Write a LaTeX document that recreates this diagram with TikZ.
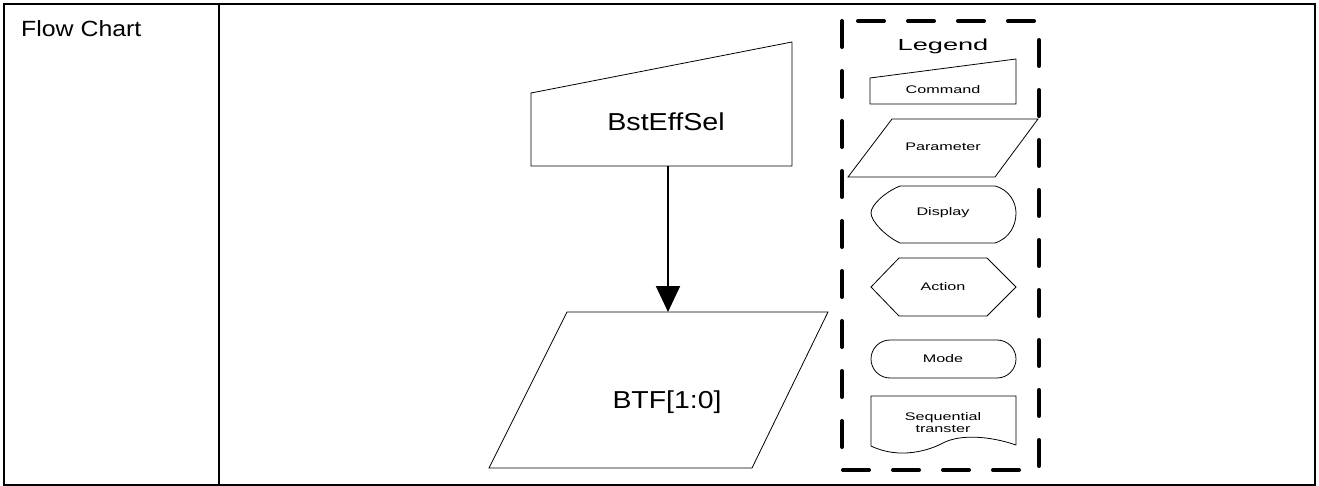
\documentclass[tikz,border=0pt]{standalone}
\usepackage{fontspec}
\setmainfont{Liberation Sans}
\usepackage{graphicx}
\usetikzlibrary{positioning,arrows.meta,calc}
\newcommand{\wtxt}[2]{\scalebox{#1}[1]{#2}}

\begin{document}
\begin{tikzpicture}[x=1pt, y=-1pt,
  shp/.style={draw, line width=0.8pt},
  big/.style={font=\fontsize{24.5}{28}\selectfont, inner sep=0pt},
  sml/.style={font=\fontsize{11}{13}\selectfont, inner sep=0pt, align=center},
  arr/.style={-{Triangle[length=26pt, width=24pt]}, line width=2pt},
  legbox/.style={line width=4pt, dash pattern=on 26pt off 24pt, line cap=round}]
\useasboundingbox (0,0) rectangle (1319,486);
% frame
\draw[line width=2pt] (4,4) rectangle (1315,484.5);
\draw[line width=2pt] (219,4) -- (219,484.5);
\node[anchor=base west, inner sep=0pt, font=\fontsize{22}{26}\selectfont] (title) at (21,37) {\wtxt{1.13}{Flow Chart}};
% main flow
\draw[shp] (531,166) -- (531,93) -- (792,42) -- (792,166) -- cycle;
\node[big] (bst) at (666,122) {\wtxt{1.17}{BstEffSel}};
\draw[shp] (567,312) -- (828,312) -- (752,468) -- (489,468) -- cycle;
\node[big] (btf) at (667,402) {\wtxt{1.16}{BTF[1:0]}};
\coordinate (bstout) at (668,166);
\coordinate (btfin) at (668,312);
\draw[arr] (bstout) -- (btfin);
% legend
\draw[legbox] (842,21) rectangle (1039,470);
\node[anchor=base, inner sep=0pt, font=\fontsize{16}{19}\selectfont] (leg) at (943,51) {\wtxt{1.7}{Legend}};
\draw[shp] (870,104) -- (870,78) -- (1016,59) -- (1016,104) -- cycle;
\node[sml] (cmd) at (943,90) {\wtxt{1.47}{Command}};
\draw[shp] (892,119) -- (1038,119) -- (995,177) -- (848,177) -- cycle;
\node[sml] (par) at (943,147) {\wtxt{1.47}{Parameter}};
\draw[shp] (900,186) -- (995,186) .. controls (1010,190) and (1016,203) .. (1016,213)
  .. controls (1016,225) and (1010,238) .. (995,243) -- (900,243)
  .. controls (885,236) and (871,221) .. (871,213) .. controls (871,205) and (885,192) .. (900,186) -- cycle;
\node[sml] (dsp) at (943,213) {\wtxt{1.47}{Display}};
\draw[shp] (871,287) -- (899,258) -- (987,258) -- (1016,287) -- (987,316) -- (899,316) -- cycle;
\node[sml] (act) at (943,287) {\wtxt{1.47}{Action}};
\draw[shp, rounded corners=19pt] (871,340) rectangle (1016,378);
\node[sml] (mod) at (943,359) {\wtxt{1.47}{Mode}};
\draw[shp] (871,446) -- (871,396) -- (1016,396) -- (1016,445)
  .. controls (990,436) and (960,434) .. (943,443) .. controls (930,450) and (900,460) .. (871,446) -- cycle;
\node[sml] (seq) at (943,423) {\wtxt{1.47}{Sequential}\\[-1pt]\wtxt{1.47}{transter}};
\end{tikzpicture}
\end{document}
